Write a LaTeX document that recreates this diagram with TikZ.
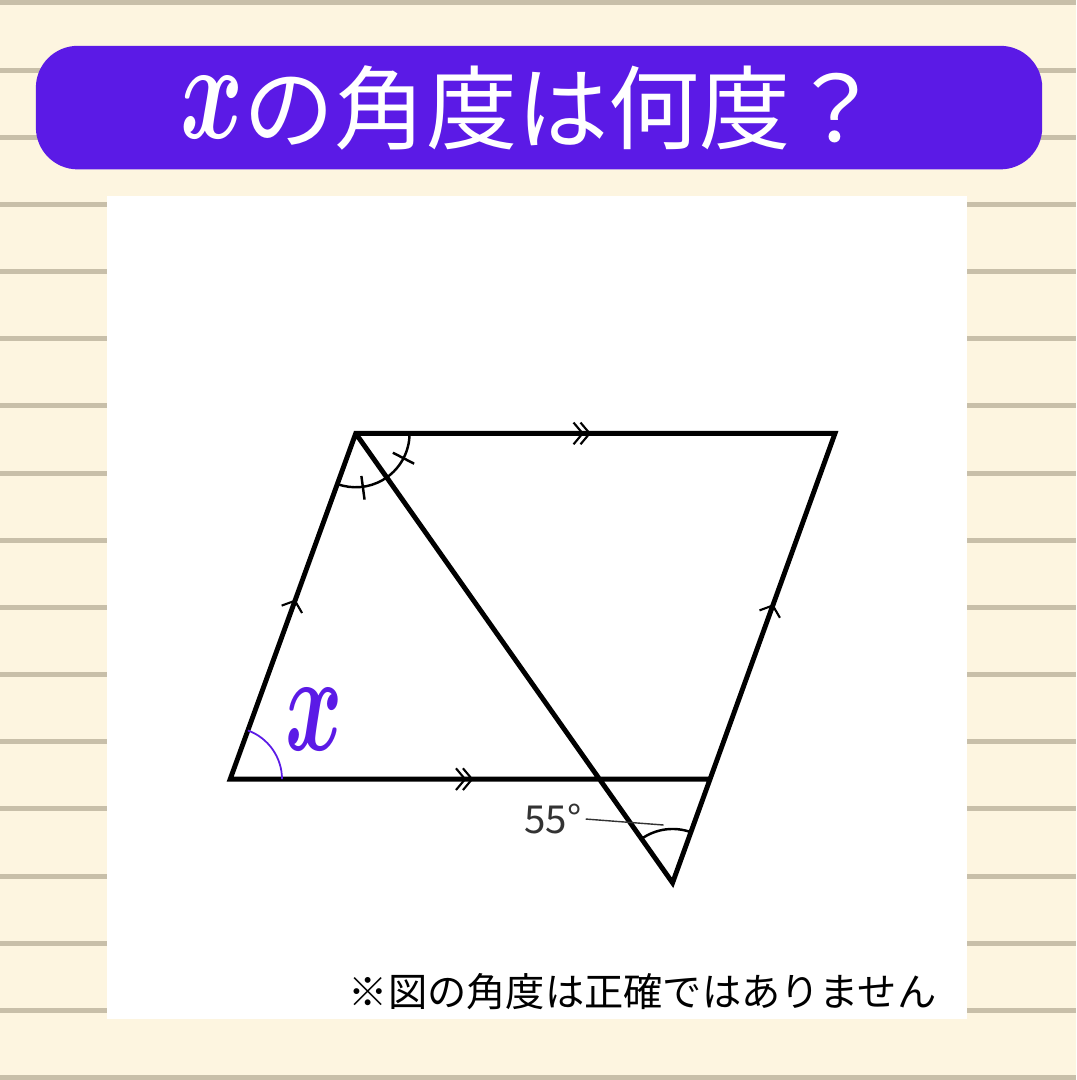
\documentclass[tikz,border=0pt]{standalone}
\usepackage{bm}
\usepackage{fontspec}
\newfontfamily\jpfont{Noto Sans CJK JP}
\usetikzlibrary{arrows.meta,decorations.markings}
\definecolor{cream}{HTML}{FDF5E0}
\definecolor{rulegray}{HTML}{C8BFA9}
\definecolor{banner}{HTML}{5B1AE6}
\definecolor{labelgray}{HTML}{333333}
\tikzset{
  chev/.tip={Straight Barb[length=2.6pt,width=6.2pt,line width=0.6pt]},
  edge/.style={line width=1.4pt, line join=miter},
  onechev/.style={postaction={decorate,decoration={markings,
      mark=at position #1 with {\arrow{chev}}}}},
  twochev/.style 2 args={postaction={decorate,decoration={markings,
      mark=at position #1 with {\arrow{chev}},
      mark=at position #2 with {\arrow{chev}}}}},
  anglearc/.style={line width=0.7pt},
}
\begin{document}
\begin{tikzpicture}[x=0.01cm,y=0.01cm]
% paper and ruled lines
\fill[cream] (0,0) rectangle (1080,1080);
\foreach \k in {0,...,16}
  \fill[rulegray] (0,{1077-67.4*\k-2.5}) rectangle (1080,{1077-67.4*\k+2.5});
% title banner
\fill[banner, rounded corners=0.42cm] (36,910) rectangle (1046,1034);
\node[text=white, font=\jpfont\fontsize{26}{30}\selectfont] (title) at (533,972)
  {\raisebox{1pt}{\scalebox{1.1}[1.6]{$\bm{x}$}}の角度は何度？};
% white panel
\fill[white] (107,57) rectangle (970,883);
% corners of the figure
\coordinate (A) at (357,645);
\coordinate (B) at (838,645);
\coordinate (C) at (231,298);
\coordinate (D) at (712,298);
\coordinate (E) at (675,194);
% outline
\draw[edge] (D) -- (C) -- (A) -- (B) -- (E) -- (A);
\path[twochev={2.29cm}{2.36cm}] (A) -- (B);
\path[twochev={2.37cm}{2.44cm}] (C) -- (D);
\path[onechev={0.52}] (C) -- (A);
\path[onechev={0.62}] (E) -- (B);
% equal angles at A
\draw[anglearc] ([shift={(0:0.54cm)}]A) arc[start angle=0, end angle=-110, radius=0.54cm];
\draw[anglearc] ([shift={(-27.4:0.42cm)}]A) -- ([shift={(-27.4:0.66cm)}]A);
\draw[anglearc] ([shift={(-82.4:0.43cm)}]A) -- ([shift={(-82.4:0.67cm)}]A);
% angle at E
\draw[anglearc] ([shift={(70.1:0.54cm)}]E) arc[start angle=70.1, end angle=125.2, radius=0.54cm];
\node[text=labelgray, font=\jpfont\fontsize{11}{13}\selectfont, inner sep=1pt] (deg55) at (555,258) {55°};
\coordinate (tip55) at (666,252);
\draw[labelgray, line width=0.4pt] (deg55.east) -- (tip55);
% angle x at C
\draw[banner, line width=0.5pt] ([shift={(0:0.52cm)}]C) arc[start angle=0, end angle=70, radius=0.52cm];
\node[text=banner, font=\fontsize{24}{28}\selectfont] (xlabel) at (315,358) {\scalebox{1}[1.6]{$\bm{x}$}};
% note
\node[font=\jpfont\fontsize{11.2}{14}\selectfont] (note) at (645,85) {※図の角度は正確ではありません};
\end{tikzpicture}
\end{document}
